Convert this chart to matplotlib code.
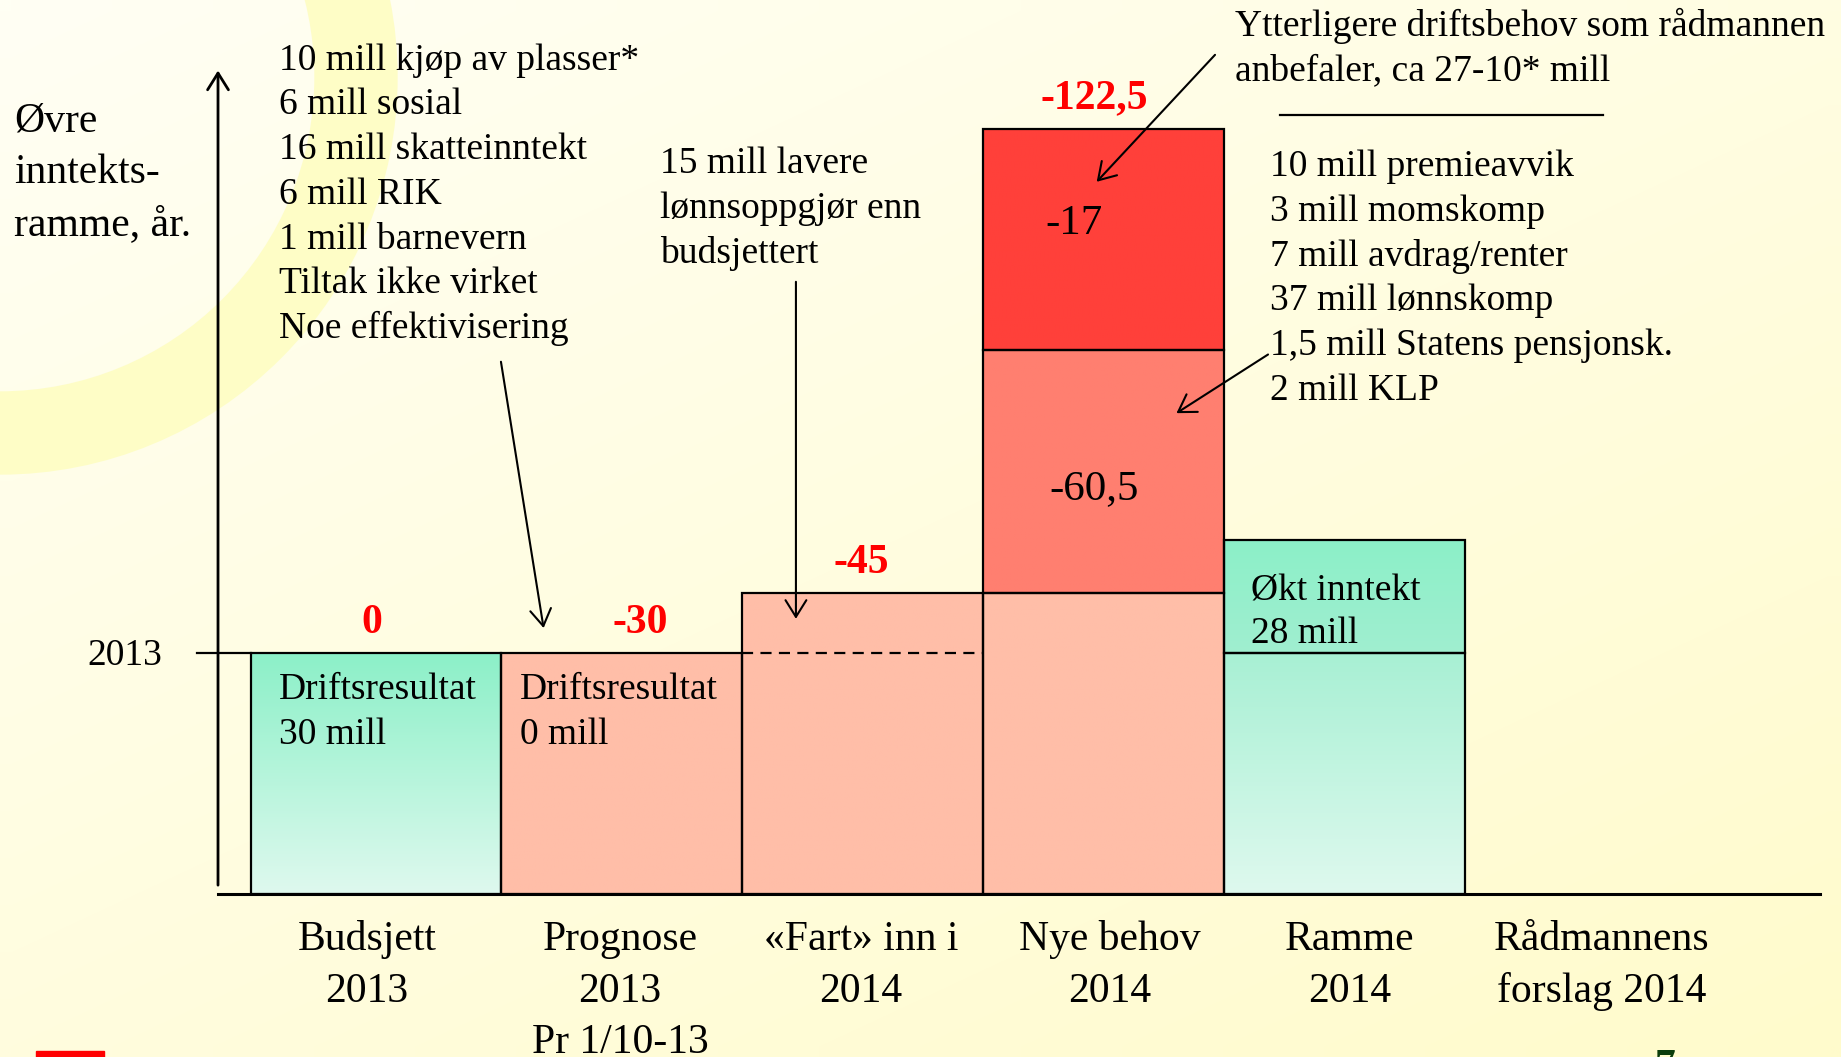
import numpy as np
import matplotlib
matplotlib.use("Agg")
import matplotlib.pyplot as plt
from matplotlib.patches import Circle, Rectangle

plt.rcParams["font.family"] = ["Liberation Serif", "DejaVu Serif"]

# --- data (schematic heights, the "2013" level is drawn at 60) ---
categories = ["Budsjett\n2013", "Prognose\n2013\nPr 1/10-13", "«Fart» inn i\n2014",
              "Nye behov\n2014", "Ramme\n2014", "Rådmannens\nforslag 2014"]
niva_2013 = 60
fart_okning = 15       # 15 mill lavere lønnsoppgjør
nye_behov = 60.5       # -60,5
ytterligere = 55       # -17 (drawn out of scale in the original)
okt_inntekt = 28
sum_labels = ["0", "-30", "-45", "-122,5"]
bar_texts = ["Driftsresultat\n30 mill", "Driftsresultat\n0 mill"]
venstre_liste = ["10 mill kjøp av plasser*", "6 mill sosial", "16 mill skatteinntekt",
                 "6 mill RIK", "1 mill barnevern", "Tiltak ikke virket",
                 "Noe effektivisering"]
lonn_tekst = ["15 mill lavere", "lønnsoppgjør enn", "budsjettert"]
radmann_tekst = ["Ytterligere driftsbehov som rådmannen", "anbefaler, ca 27-10* mill"]
hoyre_liste = ["10 mill premieavvik", "3 mill momskomp", "7 mill avdrag/renter",
               "37 mill lønnskomp", "1,5 mill Statens pensjonsk.", "2 mill KLP"]

W, H = 1841, 1057
fig = plt.figure(figsize=(W / 100, H / 100), dpi=100)

# background: pale yellow gradient with a yellow ring in the corner
bg = fig.add_axes([0, 0, 1, 1])
bg.set_xlim(0, W)
bg.set_ylim(H, 0)
bg.axis("off")
xx, yy = np.meshgrid(np.linspace(0, 1, 80), np.linspace(0, 1, 50))
t = (0.45 * xx + 0.55 * yy)[..., None]
c0 = np.array([255, 255, 244]) / 255
c1 = np.array([255, 251, 204]) / 255
bg.imshow(c0 * (1 - t) + c1 * t, extent=(0, W, H, 0), aspect="auto",
          interpolation="bilinear", zorder=0)
bg.add_patch(Circle((0, 77), 356, fill=False, lw=60, edgecolor="#FEFDC6", zorder=1))
bg.add_patch(Rectangle((36, 1051), 68, 10, color="#FF0000", zorder=2))
bg.text(1665, 1049, "7", color="#0B3D0B", fontsize=30, fontweight="bold",
        ha="center", va="top", zorder=2)

# main axes
ax = fig.add_axes([0, 0, 1, 1], zorder=1)
ax.axis("off")

edge = dict(edgecolor="black", linewidth=1.6, zorder=3)


def fill(patch, top, bottom=None):
    # vertical gradient (or flat colour) behind a bar outline
    bottom = top if bottom is None else bottom
    grad = np.linspace(np.array(top), np.array(bottom), 64)[:, None, :] / 255
    x0, y0 = patch.get_x(), patch.get_y()
    ax.imshow(grad, extent=(x0, x0 + patch.get_width(), y0, y0 + patch.get_height()),
              aspect="auto", interpolation="bilinear", zorder=2)


green_top, green_bot = (140, 240, 200), (222, 249, 238)
salmon = (255, 190, 168)

widths = np.array([1.037, 1, 1, 1, 1])
lefts = np.arange(5) + 1 - widths
lower_h = [niva_2013, niva_2013, niva_2013 + fart_okning,
           niva_2013 + fart_okning, niva_2013]
lower = ax.bar(lefts, lower_h, widths, align="edge", facecolor="none", **edge)
fill(lower[0], green_top, green_bot)
fill(lower[1], salmon)
fill(lower[2], salmon)
fill(lower[3], salmon)
fill(lower[4], (168, 240, 212), green_bot)

base_nye = niva_2013 + fart_okning
mid = ax.bar(3, nye_behov, 1, bottom=base_nye, align="edge", facecolor="none", **edge)
fill(mid[0], (255, 127, 112))
top = ax.bar(3, ytterligere, 1, bottom=base_nye + nye_behov, align="edge",
             facecolor="none", **edge)
fill(top[0], (255, 64, 58))
ramme = ax.bar(4, okt_inntekt, 1, bottom=niva_2013, align="edge", facecolor="none", **edge)
fill(ramme[0], green_top, (160, 238, 208))

# dashed 2013 level inside the "Fart" bar
ax.plot([2, 3], [niva_2013, niva_2013], color="black", lw=1.6,
        dashes=(5, 3.3), zorder=4)

# axes lines
ax.plot([-0.173, 6.474], [0, 0], color="black", lw=2.2, zorder=4)
ax.plot([-0.26, lefts[0]], [niva_2013, niva_2013], color="black", lw=1.6, zorder=4)
arrow = dict(arrowstyle="->,head_length=0.4,head_width=0.25", mutation_scale=30,
             lw=1.5, color="black", shrinkA=0, shrinkB=0)
ax.annotate("", xy=(-0.173, 205), xytext=(-0.173, 2.2),
            arrowprops=dict(arrow, lw=2), zorder=4)
ax.text(-0.405, niva_2013 - 3, "2013", fontsize=27, ha="right", va="baseline")
for j, line in enumerate(["Øvre", "inntekts-", "ramme, år."]):
    ax.text(-1.02, 189.8 - 12.87 * j, line, fontsize=30, ha="left", va="baseline")

# category labels under the axis
cat_x = np.arange(6) + 0.5 + np.array([-0.055, -0.005, -0.005, 0.026, 0.024, 0.068])
for i, lab in enumerate(categories):
    for j, line in enumerate(lab.split("\n")):
        ax.text(cat_x[i], -13.9 - 12.87 * j, line, fontsize=30,
                ha="center", va="baseline")

# red totals above the bars
tops = [niva_2013, niva_2013, niva_2013 + fart_okning,
        base_nye + nye_behov + ytterligere]
sum_x = [0.467, 1.578, 2.495, 3.461]
for x, y, s in zip(sum_x, tops, sum_labels):
    ax.text(x, y + 5, s, color="#FF0000", fontsize=30, fontweight="bold",
            ha="center", va="baseline")

# text inside bars
for i, s in enumerate(bar_texts):
    for j, line in enumerate(s.split("\n")):
        ax.text(i + 0.08, 48.5 - 11.2 * j, line, fontsize=27, ha="left",
                va="baseline", zorder=5)
for j, line in enumerate(["Økt inntekt", f"{okt_inntekt} mill"]):
    ax.text(4.112, 73.1 - 10.7 * j, line, fontsize=27, ha="left", va="baseline", zorder=5)
ax.text(3.38, 164.2, "-17", fontsize=31, ha="center", va="baseline", zorder=5)
ax.text(3.463, 98.2, str(-nye_behov).replace(".", ","), fontsize=31,
        ha="center", va="baseline", zorder=5)

# annotations
for j, line in enumerate(venstre_liste):
    ax.text(0.082, 205.2 - 11.14 * j, line, fontsize=27, ha="left", va="baseline")
for j, line in enumerate(lonn_tekst):
    ax.text(1.661, 179.4 - 11.2 * j, line, fontsize=27, ha="left", va="baseline")
for j, line in enumerate(radmann_tekst):
    ax.text(4.047, 213.6 - 11.08 * j, line, fontsize=27, ha="left", va="baseline")
ax.plot([4.234, 5.574], [193.9, 193.9], color="black", lw=1.6)
for j, line in enumerate(hoyre_liste):
    ax.text(4.192, 178.7 - 11.13 * j, line, fontsize=27, ha="left", va="baseline")

ax.annotate("", xy=(1.178, 66.2), xytext=(1.001, 132.5), arrowprops=arrow, zorder=6)
ax.annotate("", xy=(2.225, 68.5), xytext=(2.225, 152.4), arrowprops=arrow, zorder=6)
ax.annotate("", xy=(3.473, 177.3), xytext=(3.964, 208.9), arrowprops=arrow, zorder=6)
ax.annotate("", xy=(3.804, 119.7), xytext=(4.184, 134.3), arrowprops=arrow, zorder=6)

ax.set_xlim(-1.0776, 6.5614)
ax.set_ylim(-40.58, 222.55)

fig.savefig("out.png", dpi=100)
